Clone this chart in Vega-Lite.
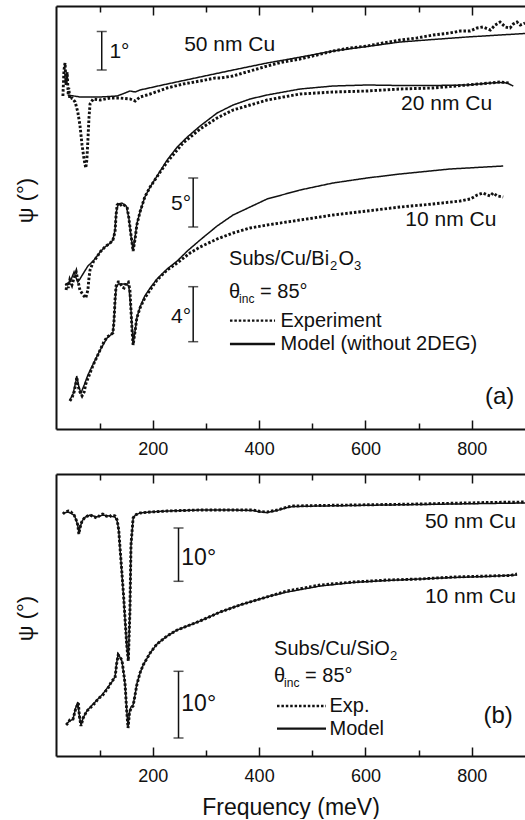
{
"$schema": "https://vega.github.io/schema/vega-lite/v6.json",
"padding": {"left": 14, "top": 5, "right": 0, "bottom": 0},
"spacing": 12,
"config": {
  "font": "Liberation Sans",
  "view": {"stroke": null},
  "axis": {"domainColor": "#111", "domainWidth": 2, "tickColor": "#111", "tickWidth": 1.5, "labelColor": "#111", "labelFontSize": 18, "titleColor": "#111", "titleFontWeight": "normal", "grid": false, "labelOverlap": false},
  "legend": {"labelFontSize": 20, "labelColor": "#111", "labelLimit": 400, "symbolStrokeColor": "#111", "symbolStrokeWidth": 2.3, "padding": 0, "offset": 0, "symbolType": "M-4,0H4", "titleFontSize": 0},
  "text": {"color": "#111"},
  "line": {"color": "#111"}
},
"datasets": {
"a": [
{"c":"50","k":"Experiment","f":31,"v":33.3},{"c":"50","k":"Experiment","f":33,"v":35.9},{"c":"50","k":"Experiment","f":35,"v":36.6},{"c":"50","k":"Experiment","f":37,"v":34.4},{"c":"50","k":"Experiment","f":39,"v":35.7},{"c":"50","k":"Experiment","f":41,"v":33.4},{"c":"50","k":"Experiment","f":42,"v":34.1},{"c":"50","k":"Experiment","f":44,"v":33.0},{"c":"50","k":"Experiment","f":48,"v":33.1},{"c":"50","k":"Experiment","f":54,"v":32.7},{"c":"50","k":"Experiment","f":59,"v":31.7},{"c":"50","k":"Experiment","f":63,"v":30.4},{"c":"50","k":"Experiment","f":67,"v":28.4},{"c":"50","k":"Experiment","f":71,"v":26.9},{"c":"50","k":"Experiment","f":74,"v":26.1},{"c":"50","k":"Experiment","f":76,"v":26.9},{"c":"50","k":"Experiment","f":78,"v":28.9},{"c":"50","k":"Experiment","f":80,"v":31.1},{"c":"50","k":"Experiment","f":82,"v":32.5},{"c":"50","k":"Experiment","f":88,"v":33.0},{"c":"50","k":"Experiment","f":101,"v":32.9},{"c":"50","k":"Experiment","f":120,"v":33.1},{"c":"50","k":"Experiment","f":138,"v":33.1},{"c":"50","k":"Experiment","f":157,"v":33.0},{"c":"50","k":"Experiment","f":167,"v":32.8},{"c":"50","k":"Experiment","f":176,"v":33.2},{"c":"50","k":"Experiment","f":195,"v":33.5},{"c":"50","k":"Experiment","f":227,"v":34.1},{"c":"50","k":"Experiment","f":257,"v":34.5},{"c":"50","k":"Experiment","f":289,"v":34.8},{"c":"50","k":"Experiment","f":317,"v":35.1},{"c":"50","k":"Experiment","f":327,"v":35.1},{"c":"50","k":"Experiment","f":351,"v":35.3},{"c":"50","k":"Experiment","f":383,"v":35.8},{"c":"50","k":"Experiment","f":415,"v":36.3},{"c":"50","k":"Experiment","f":445,"v":36.7},{"c":"50","k":"Experiment","f":477,"v":37.0},{"c":"50","k":"Experiment","f":509,"v":37.4},{"c":"50","k":"Experiment","f":539,"v":37.8},{"c":"50","k":"Experiment","f":571,"v":38.1},{"c":"50","k":"Experiment","f":603,"v":38.3},{"c":"50","k":"Experiment","f":633,"v":38.6},{"c":"50","k":"Experiment","f":665,"v":38.9},{"c":"50","k":"Experiment","f":697,"v":39.1},{"c":"50","k":"Experiment","f":727,"v":39.4},{"c":"50","k":"Experiment","f":759,"v":39.6},{"c":"50","k":"Experiment","f":778,"v":39.8},{"c":"50","k":"Experiment","f":797,"v":39.8},{"c":"50","k":"Experiment","f":810,"v":40.1},{"c":"50","k":"Experiment","f":821,"v":40.2},{"c":"50","k":"Experiment","f":835,"v":39.9},{"c":"50","k":"Experiment","f":844,"v":40.4},{"c":"50","k":"Experiment","f":853,"v":40.7},{"c":"50","k":"Experiment","f":863,"v":40.2},{"c":"50","k":"Experiment","f":872,"v":40.1},{"c":"50","k":"Experiment","f":878,"v":40.5},{"c":"50","k":"Experiment","f":885,"v":40.7},{"c":"50","k":"Experiment","f":891,"v":40.4},{"c":"50","k":"Experiment","f":900,"v":40.6},
{"c":"50","k":"Model (without 2DEG)","f":40,"v":33.4},{"c":"50","k":"Model (without 2DEG)","f":63,"v":33.2},{"c":"50","k":"Model (without 2DEG)","f":101,"v":33.2},{"c":"50","k":"Model (without 2DEG)","f":133,"v":33.3},{"c":"50","k":"Model (without 2DEG)","f":148,"v":33.6},{"c":"50","k":"Model (without 2DEG)","f":157,"v":33.8},{"c":"50","k":"Model (without 2DEG)","f":167,"v":33.7},{"c":"50","k":"Model (without 2DEG)","f":176,"v":33.9},{"c":"50","k":"Model (without 2DEG)","f":227,"v":34.5},{"c":"50","k":"Model (without 2DEG)","f":289,"v":35.2},{"c":"50","k":"Model (without 2DEG)","f":351,"v":35.9},{"c":"50","k":"Model (without 2DEG)","f":415,"v":36.6},{"c":"50","k":"Model (without 2DEG)","f":458,"v":37.0},{"c":"50","k":"Model (without 2DEG)","f":539,"v":37.8},{"c":"50","k":"Model (without 2DEG)","f":603,"v":38.25},{"c":"50","k":"Model (without 2DEG)","f":665,"v":38.7},{"c":"50","k":"Model (without 2DEG)","f":727,"v":38.95},{"c":"50","k":"Model (without 2DEG)","f":791,"v":39.2},{"c":"50","k":"Model (without 2DEG)","f":853,"v":39.4},{"c":"50","k":"Model (without 2DEG)","f":900,"v":39.55},
{"c":"20","k":"Experiment","f":37,"v":13.9},{"c":"20","k":"Experiment","f":39,"v":14.7},{"c":"20","k":"Experiment","f":41,"v":14.1},{"c":"20","k":"Experiment","f":44,"v":14.9},{"c":"20","k":"Experiment","f":48,"v":14.4},{"c":"20","k":"Experiment","f":52,"v":15.1},{"c":"20","k":"Experiment","f":56,"v":15.7},{"c":"20","k":"Experiment","f":59,"v":14.9},{"c":"20","k":"Experiment","f":63,"v":13.9},{"c":"20","k":"Experiment","f":69,"v":13.4},{"c":"20","k":"Experiment","f":74,"v":13.1},{"c":"20","k":"Experiment","f":78,"v":13.9},{"c":"20","k":"Experiment","f":80,"v":15.1},{"c":"20","k":"Experiment","f":82,"v":15.9},{"c":"20","k":"Experiment","f":88,"v":16.7},{"c":"20","k":"Experiment","f":95,"v":17.2},{"c":"20","k":"Experiment","f":101,"v":17.7},{"c":"20","k":"Experiment","f":110,"v":18.2},{"c":"20","k":"Experiment","f":120,"v":18.6},{"c":"20","k":"Experiment","f":125,"v":18.9},{"c":"20","k":"Experiment","f":129,"v":19.7},{"c":"20","k":"Experiment","f":131,"v":21.4},{"c":"20","k":"Experiment","f":133,"v":22.4},{"c":"20","k":"Experiment","f":137,"v":22.6},{"c":"20","k":"Experiment","f":140,"v":22.4},{"c":"20","k":"Experiment","f":144,"v":22.5},{"c":"20","k":"Experiment","f":148,"v":22.3},{"c":"20","k":"Experiment","f":152,"v":22.1},{"c":"20","k":"Experiment","f":155,"v":21.1},{"c":"20","k":"Experiment","f":159,"v":19.4},{"c":"20","k":"Experiment","f":163,"v":17.8},{"c":"20","k":"Experiment","f":167,"v":19.1},{"c":"20","k":"Experiment","f":170,"v":20.4},{"c":"20","k":"Experiment","f":176,"v":21.7},{"c":"20","k":"Experiment","f":185,"v":23.2},{"c":"20","k":"Experiment","f":195,"v":24.2},{"c":"20","k":"Experiment","f":214,"v":25.7},{"c":"20","k":"Experiment","f":227,"v":26.7},{"c":"20","k":"Experiment","f":257,"v":28.6},{"c":"20","k":"Experiment","f":289,"v":30.0},{"c":"20","k":"Experiment","f":321,"v":31.1},{"c":"20","k":"Experiment","f":351,"v":31.9},{"c":"20","k":"Experiment","f":383,"v":32.4},{"c":"20","k":"Experiment","f":415,"v":32.9},{"c":"20","k":"Experiment","f":477,"v":33.5},{"c":"20","k":"Experiment","f":539,"v":33.7},{"c":"20","k":"Experiment","f":603,"v":33.8},{"c":"20","k":"Experiment","f":665,"v":34.0},{"c":"20","k":"Experiment","f":727,"v":34.1},{"c":"20","k":"Experiment","f":791,"v":34.4},{"c":"20","k":"Experiment","f":835,"v":34.6},{"c":"20","k":"Experiment","f":853,"v":34.7},{"c":"20","k":"Experiment","f":872,"v":34.6},
{"c":"20","k":"Model (without 2DEG)","f":35,"v":14.4},{"c":"20","k":"Model (without 2DEG)","f":41,"v":14.6},{"c":"20","k":"Model (without 2DEG)","f":46,"v":14.9},{"c":"20","k":"Model (without 2DEG)","f":52,"v":15.7},{"c":"20","k":"Model (without 2DEG)","f":56,"v":15.1},{"c":"20","k":"Model (without 2DEG)","f":59,"v":14.7},{"c":"20","k":"Model (without 2DEG)","f":63,"v":15.0},{"c":"20","k":"Model (without 2DEG)","f":71,"v":15.7},{"c":"20","k":"Model (without 2DEG)","f":78,"v":16.3},{"c":"20","k":"Model (without 2DEG)","f":88,"v":16.8},{"c":"20","k":"Model (without 2DEG)","f":101,"v":17.7},{"c":"20","k":"Model (without 2DEG)","f":110,"v":18.2},{"c":"20","k":"Model (without 2DEG)","f":120,"v":18.6},{"c":"20","k":"Model (without 2DEG)","f":125,"v":18.9},{"c":"20","k":"Model (without 2DEG)","f":129,"v":19.9},{"c":"20","k":"Model (without 2DEG)","f":131,"v":21.6},{"c":"20","k":"Model (without 2DEG)","f":135,"v":22.5},{"c":"20","k":"Model (without 2DEG)","f":142,"v":22.6},{"c":"20","k":"Model (without 2DEG)","f":150,"v":22.3},{"c":"20","k":"Model (without 2DEG)","f":155,"v":21.1},{"c":"20","k":"Model (without 2DEG)","f":159,"v":19.3},{"c":"20","k":"Model (without 2DEG)","f":163,"v":17.9},{"c":"20","k":"Model (without 2DEG)","f":167,"v":19.3},{"c":"20","k":"Model (without 2DEG)","f":170,"v":20.5},{"c":"20","k":"Model (without 2DEG)","f":176,"v":21.7},{"c":"20","k":"Model (without 2DEG)","f":185,"v":23.2},{"c":"20","k":"Model (without 2DEG)","f":195,"v":24.2},{"c":"20","k":"Model (without 2DEG)","f":214,"v":25.8},{"c":"20","k":"Model (without 2DEG)","f":227,"v":26.9},{"c":"20","k":"Model (without 2DEG)","f":246,"v":28.2},{"c":"20","k":"Model (without 2DEG)","f":265,"v":29.2},{"c":"20","k":"Model (without 2DEG)","f":289,"v":30.3},{"c":"20","k":"Model (without 2DEG)","f":321,"v":31.6},{"c":"20","k":"Model (without 2DEG)","f":351,"v":32.4},{"c":"20","k":"Model (without 2DEG)","f":383,"v":33.0},{"c":"20","k":"Model (without 2DEG)","f":415,"v":33.4},{"c":"20","k":"Model (without 2DEG)","f":477,"v":34.0},{"c":"20","k":"Model (without 2DEG)","f":539,"v":34.3},{"c":"20","k":"Model (without 2DEG)","f":603,"v":34.4},{"c":"20","k":"Model (without 2DEG)","f":665,"v":34.35},{"c":"20","k":"Model (without 2DEG)","f":727,"v":34.35},{"c":"20","k":"Model (without 2DEG)","f":791,"v":34.4},{"c":"20","k":"Model (without 2DEG)","f":835,"v":34.6},{"c":"20","k":"Model (without 2DEG)","f":853,"v":34.65},{"c":"20","k":"Model (without 2DEG)","f":866,"v":34.6},{"c":"20","k":"Model (without 2DEG)","f":878,"v":34.3},
{"c":"10","k":"Experiment","f":44,"v":2.8},{"c":"10","k":"Experiment","f":48,"v":3.1},{"c":"10","k":"Experiment","f":52,"v":3.7},{"c":"10","k":"Experiment","f":56,"v":4.7},{"c":"10","k":"Experiment","f":57,"v":5.2},{"c":"10","k":"Experiment","f":59,"v":4.4},{"c":"10","k":"Experiment","f":63,"v":3.7},{"c":"10","k":"Experiment","f":67,"v":3.3},{"c":"10","k":"Experiment","f":71,"v":3.7},{"c":"10","k":"Experiment","f":74,"v":4.5},{"c":"10","k":"Experiment","f":82,"v":5.6},{"c":"10","k":"Experiment","f":88,"v":6.4},{"c":"10","k":"Experiment","f":95,"v":7.2},{"c":"10","k":"Experiment","f":101,"v":7.9},{"c":"10","k":"Experiment","f":108,"v":8.7},{"c":"10","k":"Experiment","f":114,"v":9.2},{"c":"10","k":"Experiment","f":120,"v":9.4},{"c":"10","k":"Experiment","f":125,"v":9.6},{"c":"10","k":"Experiment","f":127,"v":10.7},{"c":"10","k":"Experiment","f":129,"v":12.9},{"c":"10","k":"Experiment","f":131,"v":14.3},{"c":"10","k":"Experiment","f":135,"v":14.7},{"c":"10","k":"Experiment","f":138,"v":14.7},{"c":"10","k":"Experiment","f":142,"v":14.2},{"c":"10","k":"Experiment","f":146,"v":14.1},{"c":"10","k":"Experiment","f":150,"v":14.6},{"c":"10","k":"Experiment","f":154,"v":14.7},{"c":"10","k":"Experiment","f":157,"v":13.9},{"c":"10","k":"Experiment","f":159,"v":11.9},{"c":"10","k":"Experiment","f":161,"v":9.9},{"c":"10","k":"Experiment","f":163,"v":8.4},{"c":"10","k":"Experiment","f":167,"v":9.9},{"c":"10","k":"Experiment","f":170,"v":11.1},{"c":"10","k":"Experiment","f":176,"v":12.1},{"c":"10","k":"Experiment","f":185,"v":13.1},{"c":"10","k":"Experiment","f":195,"v":13.9},{"c":"10","k":"Experiment","f":208,"v":14.9},{"c":"10","k":"Experiment","f":227,"v":15.9},{"c":"10","k":"Experiment","f":246,"v":16.6},{"c":"10","k":"Experiment","f":270,"v":17.6},{"c":"10","k":"Experiment","f":289,"v":18.2},{"c":"10","k":"Experiment","f":321,"v":19.0},{"c":"10","k":"Experiment","f":351,"v":19.6},{"c":"10","k":"Experiment","f":383,"v":20.1},{"c":"10","k":"Experiment","f":415,"v":20.4},{"c":"10","k":"Experiment","f":477,"v":20.9},{"c":"10","k":"Experiment","f":539,"v":21.4},{"c":"10","k":"Experiment","f":603,"v":21.8},{"c":"10","k":"Experiment","f":665,"v":22.2},{"c":"10","k":"Experiment","f":727,"v":22.5},{"c":"10","k":"Experiment","f":778,"v":22.8},{"c":"10","k":"Experiment","f":797,"v":23.0},{"c":"10","k":"Experiment","f":810,"v":23.4},{"c":"10","k":"Experiment","f":821,"v":23.6},{"c":"10","k":"Experiment","f":829,"v":23.4},{"c":"10","k":"Experiment","f":835,"v":23.3},{"c":"10","k":"Experiment","f":840,"v":23.6},{"c":"10","k":"Experiment","f":848,"v":23.3},{"c":"10","k":"Experiment","f":859,"v":23.2},
{"c":"10","k":"Model (without 2DEG)","f":44,"v":2.9},{"c":"10","k":"Model (without 2DEG)","f":50,"v":3.5},{"c":"10","k":"Model (without 2DEG)","f":56,"v":4.9},{"c":"10","k":"Model (without 2DEG)","f":57,"v":5.3},{"c":"10","k":"Model (without 2DEG)","f":61,"v":4.2},{"c":"10","k":"Model (without 2DEG)","f":65,"v":3.6},{"c":"10","k":"Model (without 2DEG)","f":71,"v":4.4},{"c":"10","k":"Model (without 2DEG)","f":78,"v":5.4},{"c":"10","k":"Model (without 2DEG)","f":88,"v":6.5},{"c":"10","k":"Model (without 2DEG)","f":101,"v":7.9},{"c":"10","k":"Model (without 2DEG)","f":114,"v":9.1},{"c":"10","k":"Model (without 2DEG)","f":125,"v":9.6},{"c":"10","k":"Model (without 2DEG)","f":127,"v":10.9},{"c":"10","k":"Model (without 2DEG)","f":131,"v":14.1},{"c":"10","k":"Model (without 2DEG)","f":135,"v":14.5},{"c":"10","k":"Model (without 2DEG)","f":142,"v":14.5},{"c":"10","k":"Model (without 2DEG)","f":150,"v":14.5},{"c":"10","k":"Model (without 2DEG)","f":155,"v":14.3},{"c":"10","k":"Model (without 2DEG)","f":159,"v":11.9},{"c":"10","k":"Model (without 2DEG)","f":163,"v":8.6},{"c":"10","k":"Model (without 2DEG)","f":167,"v":9.9},{"c":"10","k":"Model (without 2DEG)","f":170,"v":11.1},{"c":"10","k":"Model (without 2DEG)","f":176,"v":12.2},{"c":"10","k":"Model (without 2DEG)","f":185,"v":13.3},{"c":"10","k":"Model (without 2DEG)","f":195,"v":14.1},{"c":"10","k":"Model (without 2DEG)","f":208,"v":15.0},{"c":"10","k":"Model (without 2DEG)","f":227,"v":16.0},{"c":"10","k":"Model (without 2DEG)","f":246,"v":16.8},{"c":"10","k":"Model (without 2DEG)","f":265,"v":17.8},{"c":"10","k":"Model (without 2DEG)","f":289,"v":18.9},{"c":"10","k":"Model (without 2DEG)","f":321,"v":20.3},{"c":"10","k":"Model (without 2DEG)","f":351,"v":21.4},{"c":"10","k":"Model (without 2DEG)","f":383,"v":22.2},{"c":"10","k":"Model (without 2DEG)","f":415,"v":23.0},{"c":"10","k":"Model (without 2DEG)","f":477,"v":23.9},{"c":"10","k":"Model (without 2DEG)","f":539,"v":24.6},{"c":"10","k":"Model (without 2DEG)","f":603,"v":25.1},{"c":"10","k":"Model (without 2DEG)","f":665,"v":25.5},{"c":"10","k":"Model (without 2DEG)","f":759,"v":26.0},{"c":"10","k":"Model (without 2DEG)","f":859,"v":26.3}
],
"b": [
{"c":"50","k":"Exp.","f":31,"v":24.2},{"c":"50","k":"Exp.","f":35,"v":24.4},{"c":"50","k":"Exp.","f":41,"v":24.5},{"c":"50","k":"Exp.","f":46,"v":24.4},{"c":"50","k":"Exp.","f":52,"v":24.1},{"c":"50","k":"Exp.","f":56,"v":23.6},{"c":"50","k":"Exp.","f":59,"v":23.1},{"c":"50","k":"Exp.","f":61,"v":22.2},{"c":"50","k":"Exp.","f":63,"v":22.8},{"c":"50","k":"Exp.","f":67,"v":23.5},{"c":"50","k":"Exp.","f":73,"v":23.9},{"c":"50","k":"Exp.","f":82,"v":24.1},{"c":"50","k":"Exp.","f":90,"v":23.9},{"c":"50","k":"Exp.","f":95,"v":23.8},{"c":"50","k":"Exp.","f":101,"v":24.1},{"c":"50","k":"Exp.","f":106,"v":24.2},{"c":"50","k":"Exp.","f":112,"v":24.0},{"c":"50","k":"Exp.","f":118,"v":23.9},{"c":"50","k":"Exp.","f":123,"v":24.1},{"c":"50","k":"Exp.","f":129,"v":24.0},{"c":"50","k":"Exp.","f":133,"v":23.6},{"c":"50","k":"Exp.","f":136,"v":22.6},{"c":"50","k":"Exp.","f":138,"v":21.1},{"c":"50","k":"Exp.","f":141,"v":19.0},{"c":"50","k":"Exp.","f":145,"v":16.1},{"c":"50","k":"Exp.","f":151,"v":11.1},{"c":"50","k":"Exp.","f":154,"v":9.5},{"c":"50","k":"Exp.","f":157,"v":14.5},{"c":"50","k":"Exp.","f":159,"v":21.1},{"c":"50","k":"Exp.","f":163,"v":23.8},{"c":"50","k":"Exp.","f":167,"v":24.1},{"c":"50","k":"Exp.","f":176,"v":24.3},{"c":"50","k":"Exp.","f":195,"v":24.4},{"c":"50","k":"Exp.","f":227,"v":24.5},{"c":"50","k":"Exp.","f":289,"v":24.6},{"c":"50","k":"Exp.","f":351,"v":24.6},{"c":"50","k":"Exp.","f":389,"v":24.6},{"c":"50","k":"Exp.","f":402,"v":24.45},{"c":"50","k":"Exp.","f":415,"v":24.4},{"c":"50","k":"Exp.","f":434,"v":24.6},{"c":"50","k":"Exp.","f":453,"v":24.9},{"c":"50","k":"Exp.","f":464,"v":25.0},{"c":"50","k":"Exp.","f":515,"v":25.05},{"c":"50","k":"Exp.","f":577,"v":25.1},{"c":"50","k":"Exp.","f":703,"v":25.2},{"c":"50","k":"Exp.","f":829,"v":25.35},{"c":"50","k":"Exp.","f":900,"v":25.4},
{"c":"50","k":"Model","f":31,"v":24.3},{"c":"50","k":"Model","f":41,"v":24.4},{"c":"50","k":"Model","f":52,"v":24.1},{"c":"50","k":"Model","f":56,"v":23.6},{"c":"50","k":"Model","f":59,"v":23.0},{"c":"50","k":"Model","f":61,"v":22.4},{"c":"50","k":"Model","f":63,"v":22.8},{"c":"50","k":"Model","f":67,"v":23.5},{"c":"50","k":"Model","f":73,"v":23.9},{"c":"50","k":"Model","f":82,"v":24.1},{"c":"50","k":"Model","f":95,"v":23.9},{"c":"50","k":"Model","f":106,"v":24.1},{"c":"50","k":"Model","f":118,"v":24.0},{"c":"50","k":"Model","f":129,"v":23.9},{"c":"50","k":"Model","f":133,"v":23.5},{"c":"50","k":"Model","f":136,"v":22.6},{"c":"50","k":"Model","f":138,"v":21.0},{"c":"50","k":"Model","f":141,"v":18.9},{"c":"50","k":"Model","f":145,"v":16.0},{"c":"50","k":"Model","f":151,"v":11.0},{"c":"50","k":"Model","f":154,"v":9.6},{"c":"50","k":"Model","f":157,"v":14.4},{"c":"50","k":"Model","f":159,"v":21.0},{"c":"50","k":"Model","f":163,"v":23.7},{"c":"50","k":"Model","f":167,"v":24.1},{"c":"50","k":"Model","f":176,"v":24.3},{"c":"50","k":"Model","f":195,"v":24.4},{"c":"50","k":"Model","f":227,"v":24.5},{"c":"50","k":"Model","f":289,"v":24.6},{"c":"50","k":"Model","f":351,"v":24.6},{"c":"50","k":"Model","f":389,"v":24.55},{"c":"50","k":"Model","f":402,"v":24.4},{"c":"50","k":"Model","f":415,"v":24.35},{"c":"50","k":"Model","f":434,"v":24.55},{"c":"50","k":"Model","f":453,"v":24.85},{"c":"50","k":"Model","f":464,"v":24.95},{"c":"50","k":"Model","f":515,"v":25.0},{"c":"50","k":"Model","f":577,"v":25.05},{"c":"50","k":"Model","f":703,"v":25.15},{"c":"50","k":"Model","f":829,"v":25.25},{"c":"50","k":"Model","f":900,"v":25.3},
{"c":"10","k":"Exp.","f":37,"v":3.1},{"c":"10","k":"Exp.","f":41,"v":3.3},{"c":"10","k":"Exp.","f":44,"v":3.6},{"c":"10","k":"Exp.","f":50,"v":3.7},{"c":"10","k":"Exp.","f":55,"v":4.7},{"c":"10","k":"Exp.","f":60,"v":5.3},{"c":"10","k":"Exp.","f":62,"v":4.0},{"c":"10","k":"Exp.","f":65,"v":3.0},{"c":"10","k":"Exp.","f":69,"v":3.8},{"c":"10","k":"Exp.","f":76,"v":4.5},{"c":"10","k":"Exp.","f":88,"v":5.1},{"c":"10","k":"Exp.","f":97,"v":5.7},{"c":"10","k":"Exp.","f":106,"v":6.1},{"c":"10","k":"Exp.","f":116,"v":6.8},{"c":"10","k":"Exp.","f":123,"v":7.5},{"c":"10","k":"Exp.","f":129,"v":7.8},{"c":"10","k":"Exp.","f":132,"v":9.2},{"c":"10","k":"Exp.","f":135,"v":10.1},{"c":"10","k":"Exp.","f":138,"v":9.9},{"c":"10","k":"Exp.","f":142,"v":9.6},{"c":"10","k":"Exp.","f":146,"v":8.0},{"c":"10","k":"Exp.","f":148,"v":7.1},{"c":"10","k":"Exp.","f":151,"v":4.5},{"c":"10","k":"Exp.","f":153.5,"v":2.8},{"c":"10","k":"Exp.","f":156,"v":4.2},{"c":"10","k":"Exp.","f":159,"v":4.8},{"c":"10","k":"Exp.","f":163,"v":5.0},{"c":"10","k":"Exp.","f":167,"v":6.2},{"c":"10","k":"Exp.","f":170,"v":7.1},{"c":"10","k":"Exp.","f":176,"v":8.3},{"c":"10","k":"Exp.","f":182,"v":9.1},{"c":"10","k":"Exp.","f":195,"v":10.3},{"c":"10","k":"Exp.","f":208,"v":11.2},{"c":"10","k":"Exp.","f":227,"v":12.0},{"c":"10","k":"Exp.","f":246,"v":12.6},{"c":"10","k":"Exp.","f":265,"v":13.0},{"c":"10","k":"Exp.","f":289,"v":13.5},{"c":"10","k":"Exp.","f":327,"v":14.4},{"c":"10","k":"Exp.","f":364,"v":15.1},{"c":"10","k":"Exp.","f":389,"v":15.5},{"c":"10","k":"Exp.","f":421,"v":16.0},{"c":"10","k":"Exp.","f":453,"v":16.5},{"c":"10","k":"Exp.","f":515,"v":17.1},{"c":"10","k":"Exp.","f":577,"v":17.4},{"c":"10","k":"Exp.","f":641,"v":17.6},{"c":"10","k":"Exp.","f":703,"v":17.7},{"c":"10","k":"Exp.","f":765,"v":17.9},{"c":"10","k":"Exp.","f":829,"v":18.0},{"c":"10","k":"Exp.","f":872,"v":18.05},{"c":"10","k":"Exp.","f":885,"v":18.2},
{"c":"10","k":"Model","f":37,"v":3.2},{"c":"10","k":"Model","f":44,"v":3.5},{"c":"10","k":"Model","f":50,"v":3.7},{"c":"10","k":"Model","f":55,"v":4.8},{"c":"10","k":"Model","f":59,"v":5.4},{"c":"10","k":"Model","f":62,"v":4.0},{"c":"10","k":"Model","f":65,"v":3.1},{"c":"10","k":"Model","f":69,"v":3.8},{"c":"10","k":"Model","f":76,"v":4.5},{"c":"10","k":"Model","f":88,"v":5.2},{"c":"10","k":"Model","f":106,"v":6.2},{"c":"10","k":"Model","f":123,"v":7.4},{"c":"10","k":"Model","f":129,"v":7.9},{"c":"10","k":"Model","f":132,"v":9.3},{"c":"10","k":"Model","f":135,"v":10.2},{"c":"10","k":"Model","f":138,"v":9.9},{"c":"10","k":"Model","f":142,"v":9.5},{"c":"10","k":"Model","f":146,"v":8.0},{"c":"10","k":"Model","f":148,"v":7.1},{"c":"10","k":"Model","f":151,"v":4.6},{"c":"10","k":"Model","f":153.5,"v":2.9},{"c":"10","k":"Model","f":156,"v":4.3},{"c":"10","k":"Model","f":159,"v":4.9},{"c":"10","k":"Model","f":163,"v":5.1},{"c":"10","k":"Model","f":167,"v":6.2},{"c":"10","k":"Model","f":170,"v":7.2},{"c":"10","k":"Model","f":176,"v":8.3},{"c":"10","k":"Model","f":182,"v":9.1},{"c":"10","k":"Model","f":195,"v":10.3},{"c":"10","k":"Model","f":208,"v":11.2},{"c":"10","k":"Model","f":227,"v":12.0},{"c":"10","k":"Model","f":246,"v":12.6},{"c":"10","k":"Model","f":265,"v":13.0},{"c":"10","k":"Model","f":289,"v":13.5},{"c":"10","k":"Model","f":327,"v":14.4},{"c":"10","k":"Model","f":364,"v":15.1},{"c":"10","k":"Model","f":389,"v":15.5},{"c":"10","k":"Model","f":421,"v":16.0},{"c":"10","k":"Model","f":453,"v":16.4},{"c":"10","k":"Model","f":515,"v":17.0},{"c":"10","k":"Model","f":577,"v":17.35},{"c":"10","k":"Model","f":641,"v":17.55},{"c":"10","k":"Model","f":703,"v":17.7},{"c":"10","k":"Model","f":765,"v":17.85},{"c":"10","k":"Model","f":829,"v":17.95},{"c":"10","k":"Model","f":885,"v":18.1}
]
},
"vconcat": [
{
  "width": 469, "height": 423,
  "data": {"name": "a"},
  "resolve": {"axis": {"x": "independent", "y": "independent"}},
  "layer": [
    {"transform": [{"filter": "datum.k !== 'Experiment'"}],
     "mark": {"type": "line", "strokeWidth": 1.5},
     "encoding": {
       "x": {"field": "f", "type": "quantitative", "scale": {"domain": [18, 900], "nice": false, "zero": false},
             "axis": {"orient": "bottom", "title": null, "values": [100,200,300,400,500,600,700,800], "labelExpr": "datum.value % 200 === 0 ? datum.label : ''", "tickSize": {"condition": {"test": "datum.value % 200 === 0", "value": -9}, "value": -6}, "labelPadding": 20}},
       "y": {"field": "v", "type": "quantitative", "scale": {"domain": [0, 42.3], "nice": false, "zero": false},
             "axis": {"orient": "left", "title": "ψ (°)", "labels": false, "ticks": false, "titlePadding": 19, "titleY": 194, "titleFontSize": 22}},
       "detail": {"field": "c"},
       "strokeDash": {"field": "k", "type": "nominal", "scale": {"domain": ["Experiment", "Model (without 2DEG)"], "range": [[2.5, 1.9], [1, 0]]},
             "legend": {"orient": "none", "legendX": 186.5, "legendY": 304.7, "title": null, "symbolSize": 127, "labelOffset": 18, "rowPadding": 3.3}}
     }},
    {"transform": [{"filter": "datum.k === 'Experiment'"}],
     "mark": {"type": "line", "strokeWidth": 2.9},
     "encoding": {
       "x": {"field": "f", "type": "quantitative", "axis": null},
       "y": {"field": "v", "type": "quantitative", "axis": null},
       "detail": {"field": "c"},
       "strokeDash": {"field": "k", "type": "nominal", "scale": {"domain": ["Experiment", "Model (without 2DEG)"], "range": [[2.5, 1.9], [1, 0]]},
             "legend": {"orient": "none", "legendX": 186.5, "legendY": 304.7, "title": null, "symbolSize": 127, "labelOffset": 18, "rowPadding": 3.3}}
     }},
    {"mark": {"type": "point", "opacity": 0},
     "encoding": {
       "x": {"field": "f", "type": "quantitative", "axis": {"orient": "top", "title": null, "labels": false, "values": [100,200,300,400,500,600,700,800], "tickSize": {"condition": {"test": "datum.value % 200 === 0", "value": -9}, "value": -6}}},
       "y": {"field": "v", "type": "quantitative", "axis": null}
     }},
    {"data": {"values": [{"f": 104, "v": 39.75, "v2": 35.9}, {"f": 276, "v": 25.1, "v2": 20.2}, {"f": 276, "v": 14.23, "v2": 8.73}]},
     "mark": {"type": "errorbar", "ticks": {"size": 10, "thickness": 1.5, "color": "#111"}, "rule": {"strokeWidth": 1.5, "color": "#111"}},
     "encoding": {
       "x": {"field": "f", "type": "quantitative", "axis": null},
       "y": {"field": "v", "type": "quantitative", "axis": null},
       "y2": {"field": "v2"}
     }},
    {"data": {"values": [{"f": 259, "v": 37.8, "t": "50 nm Cu"}, {"f": 667, "v": 31.9, "t": "20 nm Cu"}, {"f": 675, "v": 20.3, "t": "10 nm Cu"}, {"f": 118.5, "v": 37.1, "t": "1°"}]},
     "mark": {"type": "text", "align": "left", "baseline": "alphabetic", "fontSize": 21},
     "encoding": {"x": {"field": "f", "type": "quantitative", "axis": null}, "y": {"field": "v", "type": "quantitative", "axis": null}, "text": {"field": "t"}}},
    {"data": {"values": [{"f": 272, "v": 21.9, "t": "5°"}, {"f": 272, "v": 10.57, "t": "4°"}]},
     "mark": {"type": "text", "align": "right", "baseline": "alphabetic", "fontSize": 21},
     "encoding": {"x": {"field": "f", "type": "quantitative", "axis": null}, "y": {"field": "v", "type": "quantitative", "axis": null}, "text": {"field": "t"}}},
    {"data": {"values": [{"f": 880, "v": 2.55, "t": "(a)"}]},
     "mark": {"type": "text", "align": "right", "baseline": "alphabetic", "fontSize": 24},
     "encoding": {"x": {"field": "f", "type": "quantitative", "axis": null}, "y": {"field": "v", "type": "quantitative", "axis": null}, "text": {"field": "t"}}},
    {"data": {"values": [{"f": 343.5, "v": 16.4}]},
     "encoding": {"x": {"field": "f", "type": "quantitative", "axis": null}, "y": {"field": "v", "type": "quantitative", "axis": null}},
     "layer": [
       {"mark": {"type": "text", "text": "Subs/Cu/Bi", "align": "left", "baseline": "alphabetic", "fontSize": 20}},
       {"mark": {"type": "text", "text": "2", "align": "left", "baseline": "alphabetic", "fontSize": 13, "dx": 101, "dy": 5}},
       {"mark": {"type": "text", "text": "O", "align": "left", "baseline": "alphabetic", "fontSize": 20, "dx": 109.5}},
       {"mark": {"type": "text", "text": "3", "align": "left", "baseline": "alphabetic", "fontSize": 13, "dx": 125, "dy": 5}}
     ]},
    {"data": {"values": [{"f": 343.5, "v": 13.1}]},
     "encoding": {"x": {"field": "f", "type": "quantitative", "axis": null}, "y": {"field": "v", "type": "quantitative", "axis": null}},
     "layer": [
       {"mark": {"type": "text", "text": "θ", "align": "left", "baseline": "alphabetic", "fontSize": 20}},
       {"mark": {"type": "text", "text": "inc", "align": "left", "baseline": "alphabetic", "fontSize": 12, "dx": 10, "dy": 5}},
       {"mark": {"type": "text", "text": "= 85°", "align": "left", "baseline": "alphabetic", "fontSize": 20, "dx": 31}}
     ]}
  ]
},
{
  "width": 469, "height": 282,
  "data": {"name": "b"},
  "resolve": {"axis": {"x": "independent", "y": "independent"}},
  "layer": [
    {"transform": [{"filter": "datum.k !== 'Exp.'"}],
     "mark": {"type": "line", "strokeWidth": 1.5},
     "encoding": {
       "x": {"field": "f", "type": "quantitative", "scale": {"domain": [18, 900], "nice": false, "zero": false},
             "axis": {"orient": "bottom", "title": "Frequency (meV)", "titleFontSize": 23, "titlePadding": 8, "values": [100,200,300,400,500,600,700,800], "labelExpr": "datum.value % 200 === 0 ? datum.label : ''", "tickSize": {"condition": {"test": "datum.value % 200 === 0", "value": -9}, "value": -6}, "labelPadding": 20}},
       "y": {"field": "v", "type": "quantitative", "scale": {"domain": [0, 28.2], "nice": false, "zero": false},
             "axis": {"orient": "left", "title": "ψ (°)", "labels": false, "ticks": false, "titlePadding": 19, "titleY": 144, "titleFontSize": 22}},
       "detail": {"field": "c"},
       "strokeDash": {"field": "k", "type": "nominal", "scale": {"domain": ["Exp.", "Model"], "range": [[2.5, 1.9], [1, 0]]},
             "legend": {"orient": "none", "legendX": 235.5, "legendY": 222, "title": null, "symbolSize": 150, "labelOffset": 18, "rowPadding": 2.7}}
     }},
    {"transform": [{"filter": "datum.k === 'Exp.'"}],
     "mark": {"type": "line", "strokeWidth": 2.9},
     "encoding": {
       "x": {"field": "f", "type": "quantitative", "axis": null},
       "y": {"field": "v", "type": "quantitative", "axis": null},
       "detail": {"field": "c"},
       "strokeDash": {"field": "k", "type": "nominal", "scale": {"domain": ["Exp.", "Model"], "range": [[2.5, 1.9], [1, 0]]},
             "legend": {"orient": "none", "legendX": 235.5, "legendY": 222, "title": null, "symbolSize": 150, "labelOffset": 18, "rowPadding": 2.7}}
     }},
    {"mark": {"type": "point", "opacity": 0},
     "encoding": {
       "x": {"field": "f", "type": "quantitative", "axis": {"orient": "top", "title": null, "labels": false, "values": [100,200,300,400,500,600,700,800], "tickSize": {"condition": {"test": "datum.value % 200 === 0", "value": -9}, "value": -6}}},
       "y": {"field": "v", "type": "quantitative", "axis": null}
     }},
    {"data": {"values": [{"f": 248.4, "v": 22.8, "v2": 17.47}, {"f": 248.4, "v": 8.47, "v2": 1.8}]},
     "mark": {"type": "errorbar", "ticks": {"size": 10, "thickness": 1.5, "color": "#111"}, "rule": {"strokeWidth": 1.5, "color": "#111"}},
     "encoding": {
       "x": {"field": "f", "type": "quantitative", "axis": null},
       "y": {"field": "v", "type": "quantitative", "axis": null},
       "y2": {"field": "v2"}
     }},
    {"data": {"values": [{"f": 883, "v": 22.8, "t": "50 nm Cu"}, {"f": 883, "v": 15.3, "t": "10 nm Cu"}]},
     "mark": {"type": "text", "align": "right", "baseline": "alphabetic", "fontSize": 21},
     "encoding": {"x": {"field": "f", "type": "quantitative", "axis": null}, "y": {"field": "v", "type": "quantitative", "axis": null}, "text": {"field": "t"}}},
    {"data": {"values": [{"f": 253.7, "v": 19.13, "t": "10°"}, {"f": 253.7, "v": 4.47, "t": "10°"}]},
     "mark": {"type": "text", "align": "left", "baseline": "alphabetic", "fontSize": 23},
     "encoding": {"x": {"field": "f", "type": "quantitative", "axis": null}, "y": {"field": "v", "type": "quantitative", "axis": null}, "text": {"field": "t"}}},
    {"data": {"values": [{"f": 877, "v": 3.3, "t": "(b)"}]},
     "mark": {"type": "text", "align": "right", "baseline": "alphabetic", "fontSize": 24},
     "encoding": {"x": {"field": "f", "type": "quantitative", "axis": null}, "y": {"field": "v", "type": "quantitative", "axis": null}, "text": {"field": "t"}}},
    {"data": {"values": [{"f": 428.2, "v": 10.1}]},
     "encoding": {"x": {"field": "f", "type": "quantitative", "axis": null}, "y": {"field": "v", "type": "quantitative", "axis": null}},
     "layer": [
       {"mark": {"type": "text", "text": "Subs/Cu/SiO", "align": "left", "baseline": "alphabetic", "fontSize": 20}},
       {"mark": {"type": "text", "text": "2", "align": "left", "baseline": "alphabetic", "fontSize": 13, "dx": 116, "dy": 5}}
     ]},
    {"data": {"values": [{"f": 428.2, "v": 7.45}]},
     "encoding": {"x": {"field": "f", "type": "quantitative", "axis": null}, "y": {"field": "v", "type": "quantitative", "axis": null}},
     "layer": [
       {"mark": {"type": "text", "text": "θ", "align": "left", "baseline": "alphabetic", "fontSize": 20}},
       {"mark": {"type": "text", "text": "inc", "align": "left", "baseline": "alphabetic", "fontSize": 12, "dx": 10, "dy": 5}},
       {"mark": {"type": "text", "text": "= 85°", "align": "left", "baseline": "alphabetic", "fontSize": 20, "dx": 31}}
     ]}
  ]
}
],
"resolve": {"scale": {"strokeDash": "independent"}, "legend": {"strokeDash": "independent"}}
}
